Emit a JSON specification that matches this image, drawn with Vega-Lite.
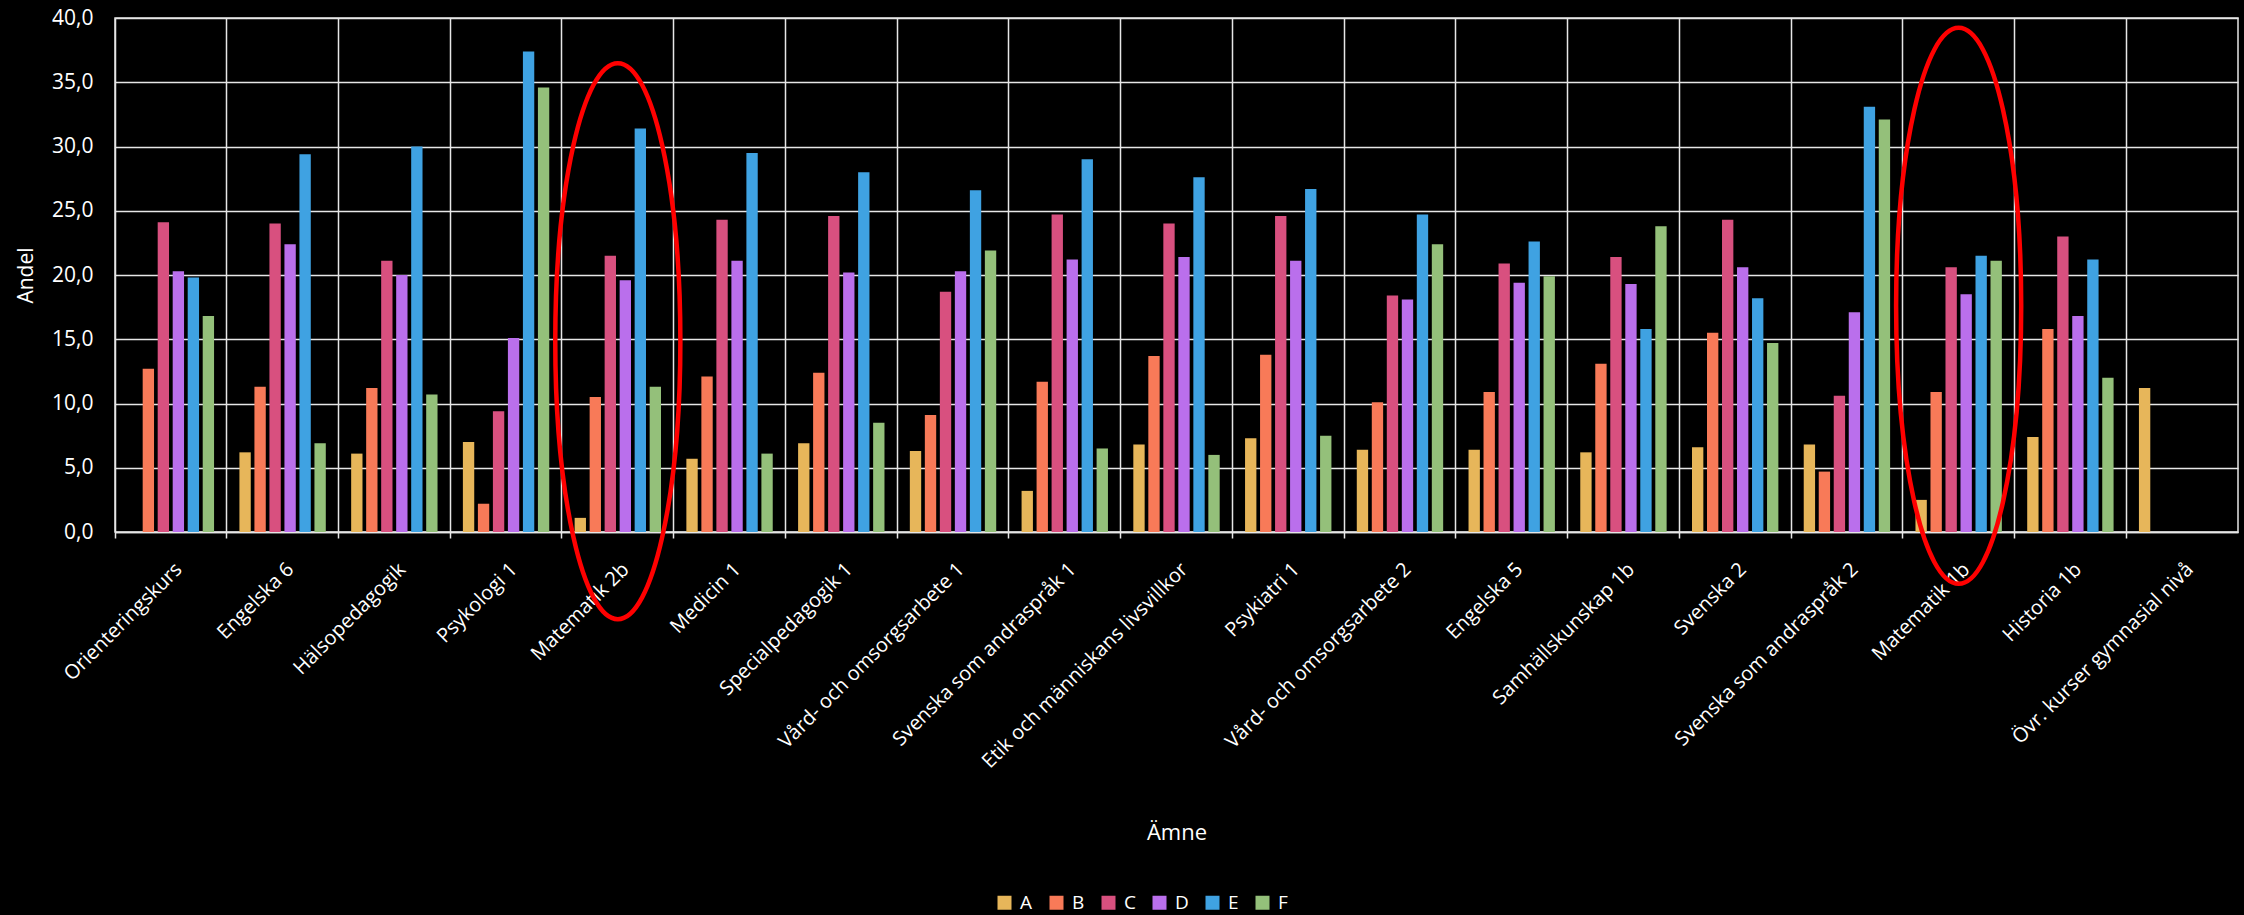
{
  "$schema": "https://vega.github.io/schema/vega-lite/v6.json",
  "width": 2123,
  "height": 514,
  "autosize": {"type": "none"},
  "padding": {"left": 115, "top": 18, "right": 6, "bottom": 383},
  "background": "#000000",
  "config": {
    "view": {"stroke": "#e6e6e6", "strokeWidth": 1.5},
    "font": "Open Sans"
  },
  "datasets": {
    "bars": [
      {"amne": "Orienteringskurs", "grupp": "B", "andel": 12.7},
      {"amne": "Orienteringskurs", "grupp": "C", "andel": 24.1},
      {"amne": "Orienteringskurs", "grupp": "D", "andel": 20.3},
      {"amne": "Orienteringskurs", "grupp": "E", "andel": 19.8},
      {"amne": "Orienteringskurs", "grupp": "F", "andel": 16.8},
      {"amne": "Engelska 6", "grupp": "A", "andel": 6.2},
      {"amne": "Engelska 6", "grupp": "B", "andel": 11.3},
      {"amne": "Engelska 6", "grupp": "C", "andel": 24.0},
      {"amne": "Engelska 6", "grupp": "D", "andel": 22.4},
      {"amne": "Engelska 6", "grupp": "E", "andel": 29.4},
      {"amne": "Engelska 6", "grupp": "F", "andel": 6.9},
      {"amne": "Hälsopedagogik", "grupp": "A", "andel": 6.1},
      {"amne": "Hälsopedagogik", "grupp": "B", "andel": 11.2},
      {"amne": "Hälsopedagogik", "grupp": "C", "andel": 21.1},
      {"amne": "Hälsopedagogik", "grupp": "D", "andel": 20.0},
      {"amne": "Hälsopedagogik", "grupp": "E", "andel": 30.0},
      {"amne": "Hälsopedagogik", "grupp": "F", "andel": 10.7},
      {"amne": "Psykologi 1", "grupp": "A", "andel": 7.0},
      {"amne": "Psykologi 1", "grupp": "B", "andel": 2.2},
      {"amne": "Psykologi 1", "grupp": "C", "andel": 9.4},
      {"amne": "Psykologi 1", "grupp": "D", "andel": 15.1},
      {"amne": "Psykologi 1", "grupp": "E", "andel": 37.4},
      {"amne": "Psykologi 1", "grupp": "F", "andel": 34.6},
      {"amne": "Matematik 2b", "grupp": "A", "andel": 1.1},
      {"amne": "Matematik 2b", "grupp": "B", "andel": 10.5},
      {"amne": "Matematik 2b", "grupp": "C", "andel": 21.5},
      {"amne": "Matematik 2b", "grupp": "D", "andel": 19.6},
      {"amne": "Matematik 2b", "grupp": "E", "andel": 31.4},
      {"amne": "Matematik 2b", "grupp": "F", "andel": 11.3},
      {"amne": "Medicin 1", "grupp": "A", "andel": 5.7},
      {"amne": "Medicin 1", "grupp": "B", "andel": 12.1},
      {"amne": "Medicin 1", "grupp": "C", "andel": 24.3},
      {"amne": "Medicin 1", "grupp": "D", "andel": 21.1},
      {"amne": "Medicin 1", "grupp": "E", "andel": 29.5},
      {"amne": "Medicin 1", "grupp": "F", "andel": 6.1},
      {"amne": "Specialpedagogik 1", "grupp": "A", "andel": 6.9},
      {"amne": "Specialpedagogik 1", "grupp": "B", "andel": 12.4},
      {"amne": "Specialpedagogik 1", "grupp": "C", "andel": 24.6},
      {"amne": "Specialpedagogik 1", "grupp": "D", "andel": 20.2},
      {"amne": "Specialpedagogik 1", "grupp": "E", "andel": 28.0},
      {"amne": "Specialpedagogik 1", "grupp": "F", "andel": 8.5},
      {"amne": "Vård- och omsorgsarbete 1", "grupp": "A", "andel": 6.3},
      {"amne": "Vård- och omsorgsarbete 1", "grupp": "B", "andel": 9.1},
      {"amne": "Vård- och omsorgsarbete 1", "grupp": "C", "andel": 18.7},
      {"amne": "Vård- och omsorgsarbete 1", "grupp": "D", "andel": 20.3},
      {"amne": "Vård- och omsorgsarbete 1", "grupp": "E", "andel": 26.6},
      {"amne": "Vård- och omsorgsarbete 1", "grupp": "F", "andel": 21.9},
      {"amne": "Svenska som andraspråk 1", "grupp": "A", "andel": 3.2},
      {"amne": "Svenska som andraspråk 1", "grupp": "B", "andel": 11.7},
      {"amne": "Svenska som andraspråk 1", "grupp": "C", "andel": 24.7},
      {"amne": "Svenska som andraspråk 1", "grupp": "D", "andel": 21.2},
      {"amne": "Svenska som andraspråk 1", "grupp": "E", "andel": 29.0},
      {"amne": "Svenska som andraspråk 1", "grupp": "F", "andel": 6.5},
      {"amne": "Etik och människans livsvillkor", "grupp": "A", "andel": 6.8},
      {"amne": "Etik och människans livsvillkor", "grupp": "B", "andel": 13.7},
      {"amne": "Etik och människans livsvillkor", "grupp": "C", "andel": 24.0},
      {"amne": "Etik och människans livsvillkor", "grupp": "D", "andel": 21.4},
      {"amne": "Etik och människans livsvillkor", "grupp": "E", "andel": 27.6},
      {"amne": "Etik och människans livsvillkor", "grupp": "F", "andel": 6.0},
      {"amne": "Psykiatri 1", "grupp": "A", "andel": 7.3},
      {"amne": "Psykiatri 1", "grupp": "B", "andel": 13.8},
      {"amne": "Psykiatri 1", "grupp": "C", "andel": 24.6},
      {"amne": "Psykiatri 1", "grupp": "D", "andel": 21.1},
      {"amne": "Psykiatri 1", "grupp": "E", "andel": 26.7},
      {"amne": "Psykiatri 1", "grupp": "F", "andel": 7.5},
      {"amne": "Vård- och omsorgsarbete 2", "grupp": "A", "andel": 6.4},
      {"amne": "Vård- och omsorgsarbete 2", "grupp": "B", "andel": 10.1},
      {"amne": "Vård- och omsorgsarbete 2", "grupp": "C", "andel": 18.4},
      {"amne": "Vård- och omsorgsarbete 2", "grupp": "D", "andel": 18.1},
      {"amne": "Vård- och omsorgsarbete 2", "grupp": "E", "andel": 24.7},
      {"amne": "Vård- och omsorgsarbete 2", "grupp": "F", "andel": 22.4},
      {"amne": "Engelska 5", "grupp": "A", "andel": 6.4},
      {"amne": "Engelska 5", "grupp": "B", "andel": 10.9},
      {"amne": "Engelska 5", "grupp": "C", "andel": 20.9},
      {"amne": "Engelska 5", "grupp": "D", "andel": 19.4},
      {"amne": "Engelska 5", "grupp": "E", "andel": 22.6},
      {"amne": "Engelska 5", "grupp": "F", "andel": 19.9},
      {"amne": "Samhällskunskap 1b", "grupp": "A", "andel": 6.2},
      {"amne": "Samhällskunskap 1b", "grupp": "B", "andel": 13.1},
      {"amne": "Samhällskunskap 1b", "grupp": "C", "andel": 21.4},
      {"amne": "Samhällskunskap 1b", "grupp": "D", "andel": 19.3},
      {"amne": "Samhällskunskap 1b", "grupp": "E", "andel": 15.8},
      {"amne": "Samhällskunskap 1b", "grupp": "F", "andel": 23.8},
      {"amne": "Svenska 2", "grupp": "A", "andel": 6.6},
      {"amne": "Svenska 2", "grupp": "B", "andel": 15.5},
      {"amne": "Svenska 2", "grupp": "C", "andel": 24.3},
      {"amne": "Svenska 2", "grupp": "D", "andel": 20.6},
      {"amne": "Svenska 2", "grupp": "E", "andel": 18.2},
      {"amne": "Svenska 2", "grupp": "F", "andel": 14.7},
      {"amne": "Svenska som andraspråk 2", "grupp": "A", "andel": 6.8},
      {"amne": "Svenska som andraspråk 2", "grupp": "B", "andel": 4.7},
      {"amne": "Svenska som andraspråk 2", "grupp": "C", "andel": 10.6},
      {"amne": "Svenska som andraspråk 2", "grupp": "D", "andel": 17.1},
      {"amne": "Svenska som andraspråk 2", "grupp": "E", "andel": 33.1},
      {"amne": "Svenska som andraspråk 2", "grupp": "F", "andel": 32.1},
      {"amne": "Matematik 1b", "grupp": "A", "andel": 2.5},
      {"amne": "Matematik 1b", "grupp": "B", "andel": 10.9},
      {"amne": "Matematik 1b", "grupp": "C", "andel": 20.6},
      {"amne": "Matematik 1b", "grupp": "D", "andel": 18.5},
      {"amne": "Matematik 1b", "grupp": "E", "andel": 21.5},
      {"amne": "Matematik 1b", "grupp": "F", "andel": 21.1},
      {"amne": "Historia 1b", "grupp": "A", "andel": 7.4},
      {"amne": "Historia 1b", "grupp": "B", "andel": 15.8},
      {"amne": "Historia 1b", "grupp": "C", "andel": 23.0},
      {"amne": "Historia 1b", "grupp": "D", "andel": 16.8},
      {"amne": "Historia 1b", "grupp": "E", "andel": 21.2},
      {"amne": "Historia 1b", "grupp": "F", "andel": 12.0},
      {"amne": "Övr. kurser gymnasial nivå", "grupp": "A", "andel": 11.2}
    ],
    "ellipses": [
      {"amne": "Matematik 2b", "andel": 14.85},
      {"amne": "Matematik 1b", "andel": 17.6}
    ]
  },
  "layer": [
    {
      "data": {"name": "bars"},
      "mark": {"type": "bar"},
      "encoding": {
        "x": {
          "field": "amne",
          "type": "nominal",
          "sort": null,
          "title": "Ämne",
          "scale": {
            "domain": ["Orienteringskurs", "Engelska 6", "Hälsopedagogik", "Psykologi 1", "Matematik 2b", "Medicin 1", "Specialpedagogik 1", "Vård- och omsorgsarbete 1", "Svenska som andraspråk 1", "Etik och människans livsvillkor", "Psykiatri 1", "Vård- och omsorgsarbete 2", "Engelska 5", "Samhällskunskap 1b", "Svenska 2", "Svenska som andraspråk 2", "Matematik 1b", "Historia 1b", "Övr. kurser gymnasial nivå"],
            "paddingInner": 0,
            "paddingOuter": 0
          },
          "axis": {
            "bandPosition": 0,
            "grid": true,
            "gridColor": "#e6e6e6",
            "gridWidth": 1.5,
            "domainColor": "#e6e6e6",
            "domainWidth": 1.5,
            "ticks": true,
            "tickColor": "#e6e6e6",
            "tickSize": 6,
            "tickWidth": 1.5,
            "labelAngle": -45,
            "labelAlign": "right",
            "labelBaseline": "middle",
            "labelColor": "#ffffff",
            "labelFontSize": 20,
            "labelPadding": 28,
            "labelOffset": 8,
            "labelLimit": 600,
            "labelOverlap": false,
            "titleColor": "#ffffff",
            "titleFontSize": 22,
            "titleFontWeight": "normal",
            "titleY": 300,
            "titleBaseline": "middle"
          }
        },
        "xOffset": {
          "field": "grupp",
          "type": "nominal",
          "scale": {"domain": ["A", "B", "C", "D", "E", "F"], "paddingInner": 0.244, "paddingOuter": 0.845}
        },
        "y": {
          "field": "andel",
          "type": "quantitative",
          "title": "Andel",
          "scale": {"domain": [0, 40]},
          "axis": {
            "values": [0, 5, 10, 15, 20, 25, 30, 35, 40],
            "labelExpr": "replace(format(datum.value, '.1f'), '.', ',')",
            "grid": true,
            "gridColor": "#e6e6e6",
            "gridWidth": 1.5,
            "domain": false,
            "ticks": false,
            "labelColor": "#ffffff",
            "labelFontSize": 21,
            "labelPadding": 22,
            "titleColor": "#ffffff",
            "titleFontSize": 21,
            "titleFontWeight": "normal",
            "titleX": -89,
            "titleY": 257,
            "titleAngle": -90,
            "titleAlign": "center",
            "titleBaseline": "middle"
          }
        },
        "color": {
          "field": "grupp",
          "type": "nominal",
          "scale": {
            "domain": ["A", "B", "C", "D", "E", "F"],
            "range": ["#E7B65A", "#F87A58", "#D8507F", "#BA6FEC", "#3FA2E2", "#94C07A"]
          },
          "legend": {
            "orient": "none",
            "legendX": 880,
            "legendY": 875,
            "direction": "horizontal",
            "columns": 6,
            "title": null,
            "symbolType": "square",
            "symbolSize": 196,
            "symbolStrokeWidth": 0,
            "symbolOpacity": 1,
            "labelColor": "#ffffff",
            "labelFontSize": 19,
            "labelOffset": 6,
            "columnPadding": 14
          }
        }
      }
    },
    {
      "data": {"name": "ellipses"},
      "mark": {
        "type": "point",
        "shape": "M0,-1C0.1243,-1 0.225,-0.5523 0.225,0C0.225,0.5523 0.1243,1 0,1C-0.1243,1 -0.225,0.5523 -0.225,0C-0.225,-0.5523 -0.1243,-1 0,-1Z",
        "size": 309136,
        "filled": false,
        "stroke": "#ff0000",
        "strokeWidth": 4.5,
        "opacity": 1
      },
      "encoding": {
        "x": {"field": "amne", "type": "nominal", "sort": null},
        "y": {"field": "andel", "type": "quantitative"}
      }
    }
  ]
}
